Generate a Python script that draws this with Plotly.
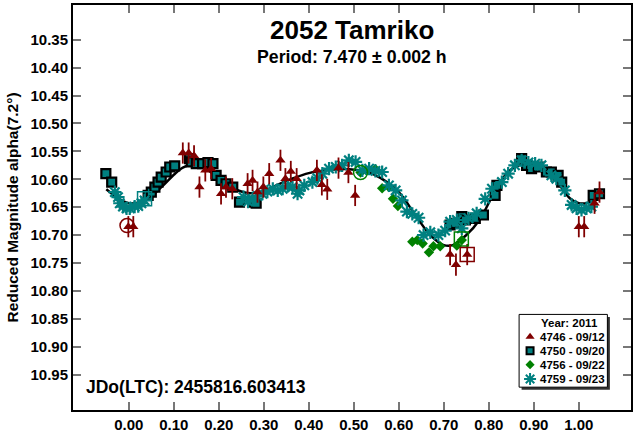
import plotly.graph_objects as go

# ---------------- data ----------------
fit_phase = [-0.05, -0.02, 0.00, 0.02, 0.05, 0.08, 0.10, 0.12, 0.14, 0.16, 0.18, 0.20,
             0.22, 0.25, 0.27, 0.30, 0.33, 0.36, 0.40, 0.45, 0.49, 0.53, 0.56, 0.60,
             0.64, 0.67, 0.70, 0.72, 0.75, 0.78, 0.82, 0.85, 0.89, 0.93, 0.95, 0.98,
             1.00, 1.02, 1.05]
fit_mag = [10.618, 10.636, 10.643, 10.642, 10.630, 10.608, 10.592, 10.579, 10.574, 10.577,
           10.586, 10.598, 10.610, 10.622, 10.625, 10.621, 10.610, 10.600, 10.589, 10.583,
           10.582, 10.587, 10.598, 10.623, 10.668, 10.700, 10.718, 10.718, 10.700, 10.672,
           10.612, 10.582, 10.572, 10.582, 10.602, 10.634, 10.643, 10.642, 10.630]

s4746_phase = [-0.001, 0.010, 0.120, 0.133, 0.145, 0.157, 0.170, 0.183, 0.205, 0.216, 0.230,
               0.264, 0.275, 0.286, 0.299, 0.312, 0.337, 0.348, 0.360, 0.373, 0.418, 0.429,
               0.441, 0.466, 0.488, 0.503, 0.714, 0.727, 0.752, 1.000, 1.012, 1.035, 1.046]
s4746_mag = [10.685, 10.685, 10.553, 10.553, 10.558, 10.614, 10.584, 10.581, 10.626, 10.614,
             10.617, 10.608, 10.602, 10.623, 10.614, 10.590, 10.566, 10.599, 10.586, 10.599,
             10.584, 10.610, 10.618, 10.580, 10.588, 10.629, 10.735, 10.753, 10.735, 10.685,
             10.685, 10.643, 10.623]
s4746_err = [0.019, 0.019, 0.019, 0.019, 0.019, 0.019, 0.020, 0.019, 0.019, 0.019, 0.019,
             0.019, 0.019, 0.019, 0.019, 0.019, 0.019, 0.019, 0.019, 0.019, 0.019, 0.019,
             0.019, 0.019, 0.019, 0.019, 0.019, 0.020, 0.019, 0.019, 0.019, 0.019, 0.019]

s4750_phase = [-0.051, -0.038, 0.043, 0.050, 0.058, 0.065, 0.072, 0.083, 0.091, 0.102, 0.135,
               0.139, 0.150, 0.164, 0.176, 0.187, 0.194, 0.205, 0.216, 0.231, 0.246, 0.275,
               0.283, 0.714, 0.725, 0.740, 0.748, 0.770, 0.788, 0.814, 0.818, 0.873, 0.884,
               0.895, 0.910, 0.928, 0.939, 0.954, 0.962, 1.032, 1.046]
s4750_mag = [10.590, 10.605, 10.629, 10.623, 10.614, 10.605, 10.596, 10.587, 10.578, 10.576,
             10.563, 10.569, 10.572, 10.572, 10.570, 10.572, 10.593, 10.602, 10.608, 10.614,
             10.641, 10.641, 10.643, 10.682, 10.679, 10.667, 10.673, 10.670, 10.664, 10.629,
             10.611, 10.563, 10.575, 10.581, 10.578, 10.587, 10.587, 10.593, 10.605, 10.629,
             10.626]

s4756_phase = [0.515, 0.548, 0.563, 0.578, 0.587, 0.598, 0.630, 0.641, 0.653, 0.667, 0.677,
               0.692, 0.729, 0.740]
s4756_mag = [10.588, 10.582, 10.616, 10.614, 10.635, 10.648, 10.712, 10.709, 10.715, 10.731,
             10.720, 10.720, 10.719, 10.709]
s4756_err = [0.006, 0.008, 0.006, 0.006, 0.006, 0.006, 0.006, 0.006, 0.006, 0.006, 0.006,
             0.006, 0.006, 0.008]

s4759_phase = [-0.031, -0.024, -0.020, -0.013, -0.005, 0.002, 0.013, 0.021, 0.028, 0.035,
               0.255, 0.265, 0.275, 0.286, 0.297, 0.308, 0.320, 0.331, 0.342, 0.353, 0.364,
               0.375, 0.379, 0.390, 0.408, 0.419, 0.430, 0.445, 0.460, 0.474, 0.489, 0.504,
               0.519, 0.534, 0.548, 0.563, 0.578, 0.593, 0.607, 0.618, 0.630, 0.644, 0.655,
               0.670, 0.688, 0.703, 0.714, 0.729, 0.740, 0.755, 0.773, 0.792, 0.807, 0.829,
               0.843, 0.858, 0.873, 0.888, 0.903, 0.917, 0.939, 0.950, 0.969, 0.984, 0.995,
               1.006, 1.017, 1.028]
s4759_mag = [10.623, 10.632, 10.643, 10.649, 10.652, 10.652, 10.649, 10.648, 10.643, 10.638,
             10.632, 10.640, 10.635, 10.630, 10.626, 10.622, 10.617, 10.620, 10.617, 10.612,
             10.614, 10.626, 10.620, 10.611, 10.605, 10.598, 10.590, 10.581, 10.578, 10.575,
             10.566, 10.569, 10.584, 10.581, 10.585, 10.587, 10.611, 10.620, 10.638, 10.658,
             10.662, 10.669, 10.700, 10.695, 10.700, 10.692, 10.676, 10.673, 10.688, 10.670,
             10.661, 10.635, 10.617, 10.605, 10.590, 10.575, 10.566, 10.570, 10.572, 10.575,
             10.593, 10.599, 10.620, 10.646, 10.652, 10.655, 10.652, 10.649]

# session start/end marks
mark_phase = [-0.004, 0.035, 0.515, 0.739, 0.752]
mark_mag = [10.683, 10.635, 10.588, 10.707, 10.735]
mark_symbol = ["circle-open", "square-open", "circle-open", "square-open", "square-open"]
mark_color = ["#800000", "#008080", "#008000", "#008000", "#800000"]

x_tickvals = [0.0, 0.1, 0.2, 0.3, 0.4, 0.5, 0.6, 0.7, 0.8, 0.9, 1.0]
x_ticktext = ["0.00", "0.10", "0.20", "0.30", "0.40", "0.50", "0.60", "0.70", "0.80", "0.90", "1.00"]
y_tickvals = [10.35, 10.40, 10.45, 10.50, 10.55, 10.60, 10.65, 10.70, 10.75, 10.80, 10.85, 10.90, 10.95]
y_ticktext = ["10.35", "10.40", "10.45", "10.50", "10.55", "10.60", "10.65", "10.70", "10.75",
              "10.80", "10.85", "10.90", "10.95"]

legend_labels = ["4746 - 09/12", "4750 - 09/20", "4756 - 09/22", "4759 - 09/23"]

# ---------------- styles ----------------
RED = "#800000"
TEAL = "#008080"
GREEN = "#008000"
FONT = "Liberation Sans, Arial, sans-serif"

W, H = 633, 433
ML, MR, MT, MB = 73, 0, 5, 20
PW, PH = W - ML - MR, H - MT - MB


def px(x):
    return (x - ML) / PW


def py(y):
    return 1 - (y - MT) / PH


fig = go.Figure()

fig.add_trace(go.Scatter(x=fit_phase, y=fit_mag, mode="lines", line=dict(color="black", width=2.5, shape="spline"),
                         showlegend=False, hoverinfo="skip"))

fig.add_trace(go.Scatter(x=s4750_phase, y=s4750_mag, mode="markers",
                         marker=dict(symbol="square", size=9, color=TEAL, line=dict(color="black", width=2.2)),
                         showlegend=False))
fig.add_trace(go.Scatter(x=s4756_phase, y=s4756_mag, mode="markers",
                         error_y=dict(type="data", array=s4756_err, color=GREEN, thickness=1.5, width=0),
                         marker=dict(symbol="diamond", size=8, color=GREEN),
                         showlegend=False))
fig.add_trace(go.Scatter(x=s4759_phase, y=s4759_mag, mode="markers",
                         marker=dict(symbol="asterisk-open", size=11, color=TEAL, line=dict(color=TEAL, width=2.2)),
                         showlegend=False))
fig.add_trace(go.Scatter(x=s4746_phase, y=s4746_mag, mode="markers",
                         error_y=dict(type="data", array=s4746_err, color=RED, thickness=1.8, width=0),
                         marker=dict(symbol="triangle-up", size=9, color=RED),
                         showlegend=False))
fig.add_trace(go.Scatter(x=mark_phase, y=mark_mag, mode="markers",
                         marker=dict(symbol=mark_symbol, size=14, color=mark_color,
                                     line=dict(color=mark_color, width=1.5)),
                         showlegend=False))

# ---------------- custom legend ----------------
LX0, LX1, LY0, LY1 = 520.7, 609.3, 316.7, 390.0
SH = 2.5
fig.add_shape(type="rect", xref="paper", yref="paper", x0=px(LX0 + SH), x1=px(LX1 + SH),
              y0=py(LY1 + SH), y1=py(LY0 + SH), fillcolor="#303030", line=dict(width=0), layer="below")
fig.add_shape(type="rect", xref="paper", yref="paper", x0=px(LX0), x1=px(LX1),
              y0=py(LY1), y1=py(LY0), fillcolor="white", line=dict(color="black", width=1), layer="below")

row_y = [339.3, 353.3, 367.3, 381.7]
sym_x = 531.7
txt_x = 539.5
fig.add_annotation(text="Year: 2011", xref="paper", yref="paper", x=px(570.8), y=py(325.0),
                   showarrow=False, xanchor="center", yanchor="middle",
                   font=dict(family=FONT, size=11.5, color="black", weight="bold"))
for lab, yy in zip(legend_labels, row_y):
    fig.add_annotation(text=lab, xref="paper", yref="paper", x=px(txt_x), y=py(yy),
                       showarrow=False, xanchor="left", yanchor="middle",
                       font=dict(family=FONT, size=11.5, color="black", weight="bold"))

leg_styles = [
    dict(symbol="triangle-up", size=8, color=RED),
    dict(symbol="square", size=7, color=TEAL, line=dict(color="black", width=2)),
    dict(symbol="diamond", size=7, color=GREEN),
    dict(symbol="asterisk-open", size=10, color=TEAL, line=dict(color=TEAL, width=2)),
]
for st, yy in zip(leg_styles, row_y):
    fig.add_trace(go.Scatter(x=[px(sym_x)], y=[py(yy)], xaxis="x2", yaxis="y2", mode="markers",
                             marker=st, showlegend=False, hoverinfo="skip", cliponaxis=False))

# ---------------- text ----------------
fig.add_annotation(text="2052 Tamriko", xref="paper", yref="paper", x=0.5, y=py(30.0),
                   showarrow=False, xanchor="center", yanchor="middle",
                   font=dict(family=FONT, size=26, color="black", weight="bold"))
fig.add_annotation(text="Period: 7.470 ± 0.002 h", xref="paper", yref="paper", x=0.5, y=py(57.0),
                   showarrow=False, xanchor="center", yanchor="middle",
                   font=dict(family=FONT, size=17.7, color="black", weight="bold"))
fig.add_annotation(text="JDo(LTC): 2455816.603413", xref="paper", yref="paper", x=px(84.0), y=py(389.5),
                   showarrow=False, xanchor="left", yanchor="middle",
                   font=dict(family=FONT, size=17.5, color="black", weight="bold"))

axis_common = dict(showline=True, linecolor="black", linewidth=2, mirror="ticks", ticks="inside",
                   ticklen=8, tickwidth=1.5, tickcolor="#777777", showgrid=False, zeroline=False)

fig.update_layout(
    width=W, height=H, margin=dict(l=ML, r=MR, t=MT, b=MB), autosize=False,
    paper_bgcolor="white", plot_bgcolor="white", showlegend=False,
    xaxis=dict(range=[-0.124, 1.116], tickvals=x_tickvals, ticktext=x_ticktext,
               tickfont=dict(family=FONT, size=15, color="black", weight="bold"), **axis_common),
    yaxis=dict(range=[11.0135, 10.2877], tickvals=y_tickvals, ticktext=y_ticktext,
               tickfont=dict(family=FONT, size=15, color="black", weight="bold"),
               title=dict(text="Reduced Magnitude alpha(7.2°)", standoff=8,
                          font=dict(family=FONT, size=15.5, color="black", weight="bold")),
               **axis_common),
    xaxis2=dict(overlaying="x", range=[0, 1], visible=False, fixedrange=True),
    yaxis2=dict(overlaying="y", range=[0, 1], visible=False, fixedrange=True),
)

fig.write_html("out.html")
